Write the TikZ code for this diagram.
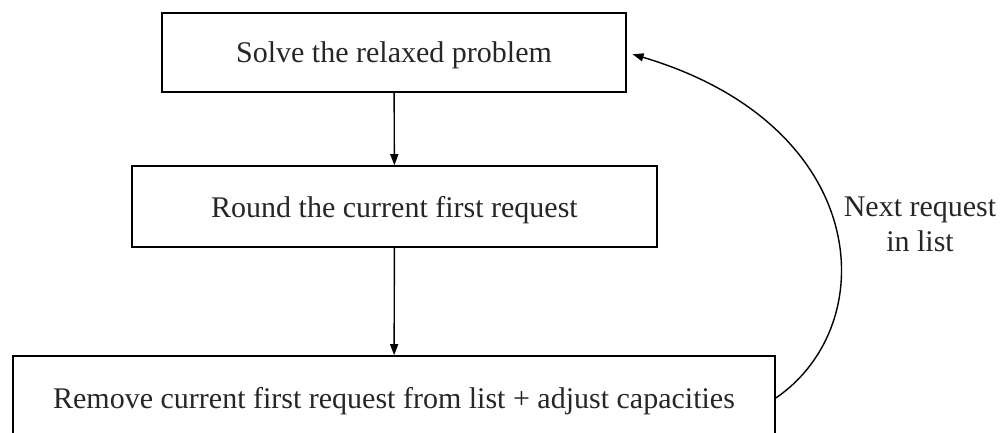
\documentclass[tikz,border=0pt]{standalone}
\usepackage{fontspec}
\setmainfont{Liberation Serif}
\usetikzlibrary{arrows.meta}
\begin{document}
\begin{tikzpicture}[x=1pt,y=-1pt,
  stepbox/.style={draw=black,line width=1.6pt,inner sep=0pt,anchor=center,
    text depth=0pt,text=black!85,font=\fontsize{30}{35}\selectfont},
  flow/.style={line width=1.4pt,-{Triangle[length=11pt,width=8pt]}},
  lbl/.style={text=black!85,align=center,font=\fontsize{30}{35}\selectfont}]
\useasboundingbox (0,0) rectangle (1004,433);
\clip (0,0) rectangle (1004,433);
% process steps
\node[stepbox,minimum width=464pt,minimum height=79pt] (solve) at (394,52.5) {Solve the relaxed problem};
\node[stepbox,minimum width=525pt,minimum height=81pt] (round) at (394.5,206.5) {Round the current first request};
\node[stepbox,minimum width=762pt,minimum height=84pt] (remove) at (394,398) {Remove current first request from list + adjust capacities};
% forward flow
\draw[flow] (solve) -- (round);
\draw[flow] (round) -- (remove);
% loop back to the top
\draw[flow,shorten >=6pt] (remove.east) .. controls (884,324) and (871,125) .. (solve.east);
\node[lbl] (next) at (920,224) {Next request\\in list};
\end{tikzpicture}
\end{document}
